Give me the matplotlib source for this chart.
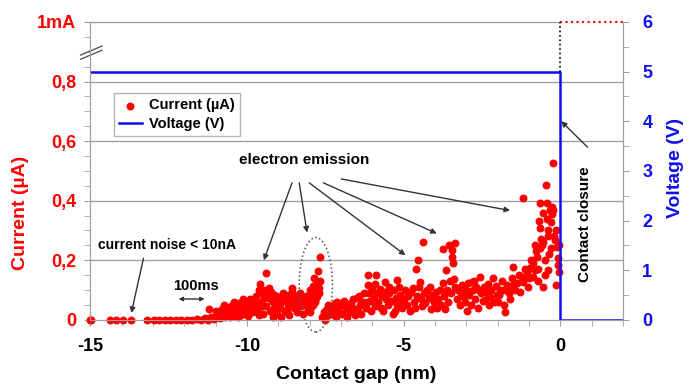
import matplotlib
matplotlib.use("Agg")
import matplotlib.pyplot as plt
from matplotlib.patches import Ellipse
from matplotlib.ticker import MultipleLocator, FixedLocator

plt.rcParams['font.family'] = ['Liberation Sans', 'DejaVu Sans']
plt.rcParams['font.weight'] = 'bold'
plt.rcParams['axes.unicode_minus'] = False

# current samples (gap in nm, current in uA)
gap_nm = [
    -15.0, -14.97, -14.36, -14.17, -13.95, -13.7, -13.2, -12.98, -12.8, -12.6, -12.45, -12.25,
    -12.1, -11.9, -11.75, -11.6, -11.45, -11.35, -11.25, -11.15, -11.05, -11.2, -11.0,
    -10.95, -10.9, -10.85, -10.8, -10.75, -10.7, -10.65, -10.6, -10.55, -10.5, -10.45, -10.4,
    -10.35, -10.3, -10.25, -10.2, -10.15, -10.1, -10.05, -10.0, -9.95, -9.9, -9.85, -9.8,
    -9.75, -9.7, -9.65, -9.6, -9.55, -9.5, -9.45, -9.4, -9.38, -9.35, -9.3, -9.25, -9.2,
    -9.15, -9.1, -9.05, -9.0, -8.95, -8.9, -8.85, -8.8, -8.75, -8.7, -8.65, -8.6, -8.56,
    -8.55, -8.5, -8.45, -8.4, -8.35, -8.3, -8.27, -8.2, -8.15,
    -10.72, -10.42, -10.12, -9.92, -9.72, -9.52, -9.42, -9.28, -9.12, -8.98, -8.82, -8.68,
    -8.48, -8.38, -10.28, -9.98, -9.62, -9.18, -8.92, -8.72, -9.82, -9.48, -9.58, -9.22,
    -9.08, -8.62,
    -8.1, -8.05, -7.95, -7.9, -8.0, -7.85, -7.8, -7.85, -7.7, -7.72, -7.66, -7.75, -7.68,
    -7.82, -7.9, -7.95, -8.12, -7.78, -7.74, -7.88, -8.0, -7.8, -7.7,
    -7.6, -7.55, -7.5, -7.47, -7.4, -7.35, -7.3, -7.25, -7.2, -7.15, -7.1, -7.05, -7.0,
    -6.95, -6.9, -6.85, -6.8, -6.75, -6.7, -6.67, -6.6, -6.55, -6.5, -6.45, -6.4, -6.35,
    -6.3, -7.42, -7.12, -6.88, -6.62, -6.42,
    -6.25, -6.2, -6.15, -6.15, -6.1, -6.08, -6.05, -6.0, -5.95, -5.9, -5.87, -5.85, -5.8,
    -5.75, -5.7, -5.65, -5.6, -5.58, -5.55, -5.5, -5.45, -5.4, -5.35, -5.3, -5.25, -5.22,
    -5.2, -5.15, -5.1, -5.05, -5.0, -6.18, -5.92, -5.72, -5.48, -5.28, -5.12,
    -4.95, -4.9, -4.85, -4.8, -4.75, -4.71, -4.68, -4.65, -4.6, -4.58, -4.55, -4.52, -4.49,
    -4.45, -4.42, -4.39, -4.35, -4.3, -4.25, -4.2, -4.17, -4.12, -4.08, -4.02, -3.98, -3.94,
    -3.9, -3.85, -3.8, -3.75, -3.75, -3.72, -3.68, -3.65, -3.62, -3.58, -3.56, -3.52, -3.48,
    -3.46, -3.44, -3.42, -3.4, -3.37, -3.35, -3.3,
    -3.25, -3.2, -3.15, -3.1, -3.05, -3.0, -2.95, -2.9, -2.85, -2.82, -2.78, -2.72, -2.68,
    -2.62, -2.56, -2.52, -2.48, -2.42, -2.4, -2.35, -2.3, -2.24, -2.2, -2.15, -2.1, -2.05,
    -1.99, -1.95, -1.92, -1.86, -1.8, -1.76, -1.7, -1.65, -1.6, -1.55, -1.5, -1.48, -3.18,
    -2.98, -2.75, -2.58, -2.28, -2.02, -1.82, -1.62,
    -1.44, -1.38, -1.32, -1.28, -1.22, -1.19, -1.19, -1.12, -1.06, -1.02, -0.96, -0.92,
    -0.87, -0.87, -0.8, -0.76, -0.74, -0.7, -0.67, -0.64, -0.64, -0.64, -0.6, -0.58, -0.54,
    -0.54, -0.54, -0.5, -0.48, -0.45, -0.42, -0.4, -0.38, -0.38, -0.35, -0.32, -0.3, -0.26,
    -0.26, -0.22, -0.22, -0.2, -0.16, -0.13, -0.12, -0.1, -0.08, -0.06, -0.05, -0.04, -0.42,
    -0.72, -0.82, -1.0, -0.3,
]
current_uA = [
    0.0, 0.0, 0.0, 0.0, 0.0, 0.0, 0.0, 0.0, 0.0, 0.0, 0.0, 0.0,
    0.0, 0.0, 0.0, 0.003, 0.0, 0.005, 0.0, 0.008, 0.003, 0.035, 0.03,
    0.012, 0.025, 0.005, 0.035, 0.018, 0.008, 0.04, 0.022, 0.01, 0.045, 0.028, 0.012,
    0.05, 0.03, 0.058, 0.015, 0.04, 0.025, 0.06, 0.035, 0.012, 0.07, 0.045, 0.025,
    0.055, 0.08, 0.035, 0.1, 0.06, 0.02, 0.075, 0.157, 0.045, 0.09, 0.107, 0.03, 0.065,
    0.085, 0.05, 0.02, 0.077, 0.04, 0.06, 0.09, 0.03, 0.07, 0.05, 0.015, 0.067, 0.107,
    0.093, 0.04, 0.075, 0.025, 0.06, 0.09, 0.045, 0.02, 0.07,
    0.05, 0.06, 0.07, 0.03, 0.04, 0.045, 0.1, 0.075, 0.04, 0.055, 0.075, 0.085,
    0.055, 0.08, 0.01, 0.05, 0.015, 0.01, 0.01, 0.025, 0.062, 0.088, 0.12, 0.095,
    0.08, 0.045,
    0.057, 0.035, 0.067, 0.05, 0.027, 0.093, 0.117, 0.14, 0.107, 0.163, 0.21, 0.08, 0.13,
    0.06, 0.085, 0.043, 0.08, 0.1, 0.125, 0.115, 0.1, 0.075, 0.09,
    0.01, 0.025, 0.0, 0.033, 0.015, 0.045, 0.02, 0.035, 0.055, 0.01, 0.03, 0.045, 0.05,
    0.02, 0.065, 0.035, 0.01, 0.048, 0.025, 0.057, 0.04, 0.015, 0.073, 0.03, 0.05, 0.02,
    0.06, 0.05, 0.06, 0.045, 0.07, 0.08,
    0.09, 0.04, 0.15, 0.117, 0.09, 0.065, 0.03, 0.1, 0.075, 0.045, 0.15, 0.09, 0.06,
    0.105, 0.08, 0.03, 0.127, 0.095, 0.07, 0.05, 0.09, 0.065, 0.02, 0.1, 0.075, 0.133,
    0.05, 0.11, 0.085, 0.04, 0.07, 0.06, 0.12, 0.04, 0.11, 0.03, 0.06,
    0.1, 0.05, 0.08, 0.03, 0.095, 0.107, 0.06, 0.04, 0.17, 0.08, 0.2, 0.11, 0.127,
    0.07, 0.045, 0.26, 0.09, 0.055, 0.1, 0.075, 0.11, 0.035, 0.085, 0.06, 0.095, 0.04,
    0.07, 0.1, 0.05, 0.237, 0.123, 0.08, 0.035, 0.167, 0.1, 0.06, 0.25, 0.13, 0.09,
    0.233, 0.21, 0.19, 0.137, 0.257, 0.11, 0.07,
    0.1, 0.05, 0.117, 0.08, 0.06, 0.1, 0.125, 0.085, 0.05, 0.127, 0.1, 0.07, 0.11,
    0.04, 0.143, 0.09, 0.065, 0.11, 0.067, 0.09, 0.12, 0.077, 0.1, 0.14, 0.06, 0.115,
    0.06, 0.085, 0.1, 0.13, 0.05, 0.027, 0.117, 0.09, 0.07, 0.14, 0.177, 0.12, 0.09,
    0.03, 0.13, 0.1, 0.05, 0.085, 0.1, 0.11,
    0.1, 0.123, 0.15, 0.093, 0.143, 0.41, 0.127, 0.17, 0.157, 0.11, 0.173, 0.2,
    0.19, 0.143, 0.167, 0.23, 0.21, 0.13, 0.333, 0.24, 0.31, 0.393, 0.27, 0.25, 0.26,
    0.36, 0.11, 0.2, 0.15, 0.453, 0.34, 0.3, 0.283, 0.167, 0.22, 0.37, 0.24, 0.357,
    0.38, 0.527, 0.37, 0.28, 0.267, 0.117, 0.3, 0.243, 0.207, 0.183, 0.25, 0.16, 0.393,
    0.17, 0.25, 0.14, 0.327,
]

# voltage trace
volt_gap = [-15, 0, 0, 2]
volt_V = [5, 5, 0, 0]

cur_ticks = [0, 0.2, 0.4, 0.6, 0.8, 1.0]
cur_labels = ['0', '0,2', '0,4', '0,6', '0,8', '1mA']
red = '#ff0000'
blue = '#1010ee'
gray = '#a0a0a0'

fig = plt.figure(figsize=(6.89, 3.92), dpi=100)
ax = fig.add_axes([0.131, 0.184, 0.773, 0.76])
ax2 = ax.twinx()

ax.set_xlim(-15, 2)
ax.set_ylim(0, 1.0)
ax2.set_ylim(0, 6)

for y in [0.2, 0.4, 0.6, 0.8]:
    ax.axhline(y, color=gray, lw=1, zorder=0)
ax.plot([-15, 0], [1, 1], color=gray, lw=1, clip_on=False)

pts = ax.scatter(gap_nm, current_uA, s=22, color=red, zorder=3, clip_on=False,
                 label='Current (µA)')
vl, = ax2.plot(volt_gap, volt_V, color=blue, lw=1.8, label='Voltage (V)')
ax2.plot([0, 0], [5, 6], color='black', lw=1.2, ls=':', clip_on=False)
ax.plot([0, 2], [1, 1], color=red, lw=1.5, ls=':', clip_on=False, zorder=4)

# spines and ticks
for a in (ax, ax2):
    a.spines['top'].set_visible(False)
    for s in ('left', 'right', 'bottom'):
        a.spines[s].set_color(gray)
ax.xaxis.set_major_locator(FixedLocator([-15, -10, -5, 0]))
ax.xaxis.set_minor_locator(MultipleLocator(1))
ax.yaxis.set_major_locator(FixedLocator(cur_ticks))
ax.set_yticklabels(cur_labels)
ax.yaxis.set_minor_locator(MultipleLocator(0.05))
ax2.yaxis.set_major_locator(MultipleLocator(1))
ax2.yaxis.set_minor_locator(MultipleLocator(0.5))
ax.tick_params(axis='x', which='both', color=gray, length=4, labelsize=13, pad=9)
ax.tick_params(axis='y', which='both', color=gray, length=4, labelsize=13, labelcolor=red, pad=6)
ax2.tick_params(axis='y', which='both', color=gray, length=4, labelsize=13, labelcolor=blue, pad=10)
for lab in ax.get_xticklabels() + ax.get_yticklabels() + ax2.get_yticklabels():
    lab.set_fontweight('bold')

ax.set_xlabel('Contact gap (nm)', fontsize=14, fontweight='bold', labelpad=8)
ax.set_ylabel('Current (µA)', fontsize=14, fontweight='bold', color=red)
ax.yaxis.set_label_coords(-0.115, 0.36)
ax2.set_ylabel('Voltage (V)', fontsize=14, fontweight='bold', color=blue)
ax2.yaxis.set_label_coords(1.082, 0.51)

# axis break on the left spine
for dy in (0.0, 0.014):
    ax.plot([-0.018, 0.022], [0.875 + dy, 0.905 + dy], transform=ax.transAxes,
            color='#555555', lw=1, clip_on=False)

leg = ax.legend(handles=[pts, vl], loc='upper left', bbox_to_anchor=(0.03, 0.785),
                fontsize=10.5, frameon=True, fancybox=False, borderpad=0.35,
                labelspacing=0.3, handlelength=1.6, handletextpad=0.5, scatterpoints=1)
leg.get_frame().set_edgecolor(gray)
leg.get_frame().set_linewidth(1)
for t in leg.get_texts():
    t.set_fontweight('bold')

# annotations
arw = dict(arrowstyle='-|>', color='#333333', lw=1, mutation_scale=8, shrinkA=0, shrinkB=0)
ax.text(-8.17, 0.535, 'electron emission', ha='center', va='center', fontsize=11, fontweight='bold')
starts = [(-8.56, 0.46), (-8.33, 0.46), (-8.01, 0.46), (-7.56, 0.46), (-6.99, 0.473)]
ends = [(-9.46, 0.2), (-8.08, 0.293), (-4.94, 0.217), (-3.94, 0.29), (-1.6, 0.367)]
for s, e in zip(starts, ends):
    ax.annotate('', xy=e, xytext=s, arrowprops=arw)

ax.text(-14.75, 0.25, 'current noise < 10nA', ha='left', va='center', fontsize=10, fontweight='bold')
ax.annotate('', xy=(-13.69, 0.023), xytext=(-13.3, 0.207), arrowprops=arw)

ax.text(-11.63, 0.115, '100ms', ha='center', va='center', fontsize=10.5, fontweight='bold')
ax.annotate('', xy=(-11.35, 0.07), xytext=(-12.18, 0.07),
            arrowprops=dict(arrowstyle='<|-|>', color='#333333', lw=1, mutation_scale=6,
                            shrinkA=0, shrinkB=0))

ax.add_patch(Ellipse((-7.8, 0.118), 1.06, 0.317, fill=False, ls=':', lw=1.1,
                     edgecolor='#555555', clip_on=False, zorder=5))

ax.text(0.8, 0.32, 'Contact closure', rotation=90, ha='center', va='center',
        fontsize=11, fontweight='bold')
ax.annotate('', xy=(0.03, 0.667), xytext=(0.87, 0.58), arrowprops=arw)

fig.savefig('out.png', dpi=100)
